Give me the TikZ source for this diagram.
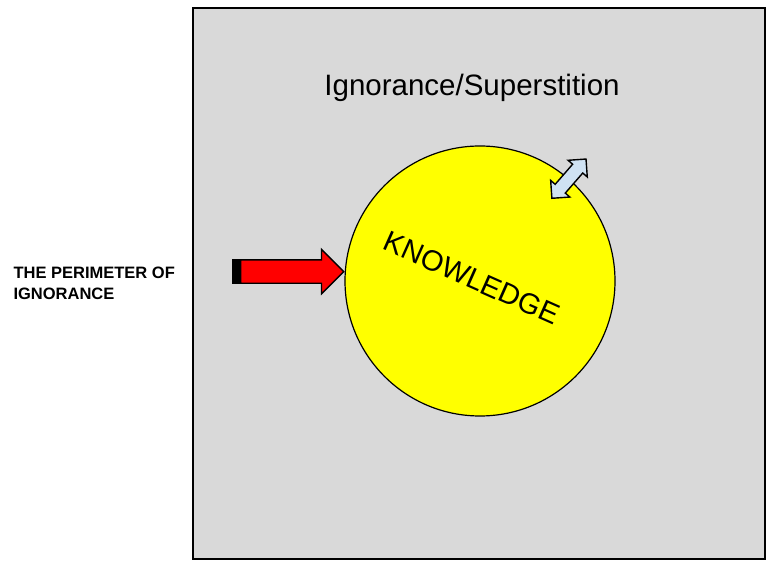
\documentclass[tikz,border=0pt]{standalone}
\usepackage{fontspec}
\setmainfont{Liberation Sans}
\usepackage{xcolor}
\usetikzlibrary{arrows.meta,positioning,shapes.arrows}

\definecolor{ignogray}{HTML}{D9D9D9}
\definecolor{knowyellow}{HTML}{FFFF00}
\definecolor{pushred}{HTML}{FF0000}
\definecolor{edgeblue}{HTML}{CFE2F3}

\begin{document}
\begin{tikzpicture}[
  x=1pt, y=1pt,
  field/.style={draw=black,line width=1.6pt,fill=ignogray},
  know/.style={circle,draw=black,line width=1.2pt,fill=knowyellow,minimum size=270pt,inner sep=0pt},
  push/.style={single arrow,draw=black,line width=1.4pt,fill=pushred,minimum height=103pt,inner xsep=0pt,inner ysep=11pt,single arrow head extend=10.5pt},
  growarrow/.style={double arrow,draw=black,line width=1.4pt,fill=edgeblue,minimum height=52pt,inner xsep=0pt,inner ysep=6pt,double arrow head extend=6pt}
]
\useasboundingbox (0,0) rectangle (777,571);
\draw[field] (193,563) rectangle (765,12);

\node[font=\fontsize{29.5}{34}\selectfont] (ign) at (472,483) {Ignorance/Superstition};

\node[know] (k) at (480,290) {};
\node[font=\fontsize{29}{34}\selectfont, rotate=-24] (kw) at (472,293) {KNOWLEDGE};

% red arrow pushing on the edge
\node[push, anchor=tip] (arr) at (k.176) {};
\fill[black] ([xshift=-8pt]arr.after tail) rectangle (arr.before tail);
\node[font=\bfseries\fontsize{16.5}{21}\selectfont, align=left, anchor=west] (per) at (10,288) {THE PERIMETER OF\\IGNORANCE};

% the edge moves both ways
\node[growarrow, rotate=49] (edge) at (k.49) {};
\end{tikzpicture}
\end{document}
